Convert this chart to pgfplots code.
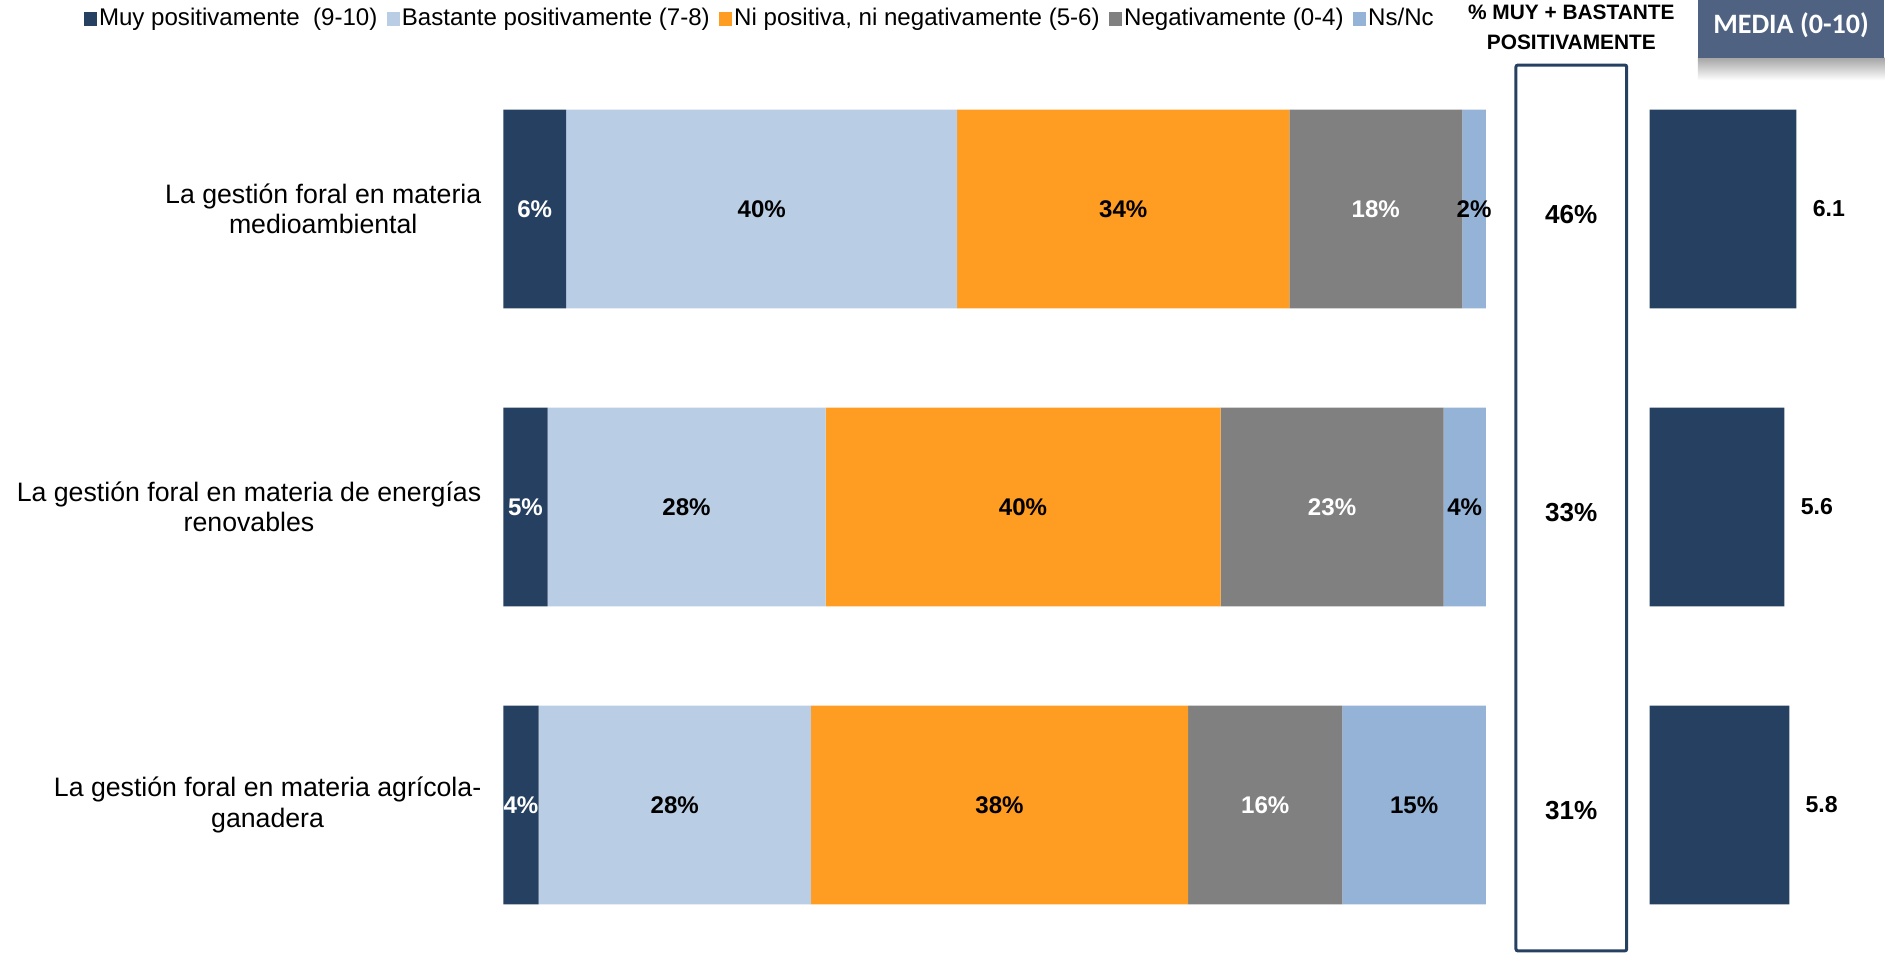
\documentclass[border=0pt]{standalone}
\usepackage{pgfplots}
\pgfplotsset{compat=1.18}
\usepackage{pgfplotstable}
\usepackage{fontspec}
\setmainfont{Liberation Sans}
\newfontfamily\calibri{Carlito}
\definecolor{muy}{RGB}{38,64,97}
\definecolor{bast}{RGB}{185,205,229}
\definecolor{ni}{RGB}{255,156,34}
\definecolor{neg}{RGB}{128,128,128}
\definecolor{nsnc}{RGB}{149,179,215}
\definecolor{mediabox}{RGB}{79,98,129}
\pgfplotsset{/pgf/number format/assume math mode=true}

% y: 3 = medioambiental, 2 = energias renovables, 1 = agricola-ganadera
\pgfplotstableread{
y v lab
3 6.4 6
2 4.5 5
1 3.6 4
}\tmuy
\pgfplotstableread{
y v lab
3 39.8 40
2 28.3 28
1 27.7 28
}\tbast
\pgfplotstableread{
y v lab
3 33.8 34
2 40.2 40
1 38.4 38
}\tni
\pgfplotstableread{
y v lab
3 17.6 18
2 22.7 23
1 15.7 16
}\tneg
\pgfplotstableread{
y v lab
3 2.4 2
2 4.3 4
1 14.6 15
}\tns

\begin{document}
\begin{tikzpicture}[x=1pt,y=1pt]
\useasboundingbox (0,0) rectangle (940.8,-474.6);

% main stacked bars
\begin{axis}[
  at={(250.8pt,-29.85pt)}, anchor=north west,
  width=489.6pt, height=445.5pt, scale only axis,
  xbar stacked, bar width=99pt,
  xmin=0, xmax=100, ymin=0.5, ymax=3.5,
  axis line style={draw=none},
  xtick=\empty, ytick={1,2,3}, major tick length=0pt,
  yticklabels={{La gestión foral en materia agrícola-\\ganadera},
               {La gestión foral en materia de energías\\renovables},
               {La gestión foral en materia\\medioambiental}},
  yticklabel style={align=center, font=\fontsize{13.3}{15}\selectfont, inner sep=0pt, xshift=-10.8pt},
  clip=false,
  point meta=explicit,
  nodes near coords={\pgfmathprintnumber{\pgfplotspointmeta}\%},
  every node near coord/.append style={font=\bfseries\fontsize{12}{14}\selectfont},
  legend columns=5,
  legend style={draw=none, fill=none, at={(0.261,1.046)}, anchor=center,
    font=\fontsize{12}{14}\selectfont,
    nodes={inner sep=1pt},
    /tikz/every even column/.append style={column sep=3.6pt}},
  legend image code/.code={\fill[#1,draw=none] (0pt,-3.4pt) rectangle (6.6pt,3.2pt);},
]
\addplot[fill=muy, draw=none, every node near coord/.append style={text=white}] table[x=v,y=y,meta=lab]{\tmuy};
\addplot[fill=bast, draw=none, every node near coord/.append style={text=black}] table[x=v,y=y,meta=lab]{\tbast};
\addplot[fill=ni, draw=none, every node near coord/.append style={text=black}] table[x=v,y=y,meta=lab]{\tni};
\addplot[fill=neg, draw=none, every node near coord/.append style={text=white}] table[x=v,y=y,meta=lab]{\tneg};
\addplot[fill=nsnc, draw=none, every node near coord/.append style={text=black}] table[x=v,y=y,meta=lab]{\tns};
\legend{Muy positivamente\ \ (9-10), Bastante positivamente (7-8), {Ni positiva, ni negativamente (5-6)}, Negativamente (0-4), Ns/Nc}
\end{axis}

% % muy + bastante column
\draw[muy, line width=1.5pt, rounded corners=1pt] (755.4,-474.6+0.75) rectangle (810.6,-32.4);
\begin{axis}[
  at={(755.4pt,-29.85pt)}, anchor=north west,
  width=55.2pt, height=445.5pt, scale only axis,
  xmin=0, xmax=1, ymin=0.5, ymax=3.5, hide axis, clip=false,
  point meta=explicit,
  nodes near coords={\pgfmathprintnumber{\pgfplotspointmeta}\%},
  every node near coord/.append style={anchor=center, yshift=-3pt, font=\bfseries\fontsize{13}{14}\selectfont},
]
\addplot[draw=none, mark=none] coordinates {(0.5,3) [46] (0.5,2) [33] (0.5,1) [31]};
\end{axis}

% media
\begin{axis}[
  at={(822pt,-29.85pt)}, anchor=north west,
  width=108pt, height=445.5pt, scale only axis,
  xbar, bar width=99pt,
  xmin=0, xmax=9, ymin=0.5, ymax=3.5, hide axis, clip=false,
  nodes near coords,
  point meta=x,
  nodes near coords style={anchor=west, xshift=4.6pt, font=\bfseries\fontsize{11.5}{13}\selectfont,
    /pgf/number format/.cd, fixed, fixed zerofill, precision=1},
]
\addplot[fill=muy, draw=none] coordinates {(6.1,3) (5.6,2) (5.8,1)};
\end{axis}

% headers
\node[align=center, font=\bfseries\fontsize{10.4}{15}\selectfont] at (783,-13.5) {\% MUY + BASTANTE\\POSITIVAMENTE};
\shade[top color=black!35, bottom color=white] (846,-28.8) rectangle (939,-40);
\fill[mediabox] (846,0) rectangle (939,-28.8);
\node[text=white, font=\calibri\bfseries\fontsize{14}{16}\selectfont] at (892.5,-12.5) {MEDIA (0-10)};
\end{tikzpicture}
\end{document}
